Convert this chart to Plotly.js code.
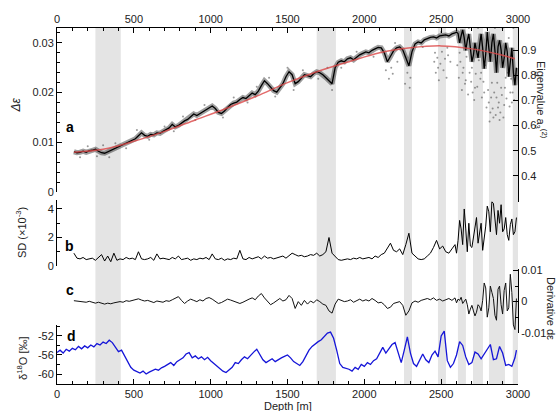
<!DOCTYPE html>
<html><head><meta charset="utf-8">
<script src="https://cdn.plot.ly/plotly-3.0.1.min.js"></script>
<style>html,body{margin:0;padding:0;background:#fff}#chart{width:560px;height:411px}</style>
</head><body><div id="chart"></div>
<script>
// Depth sampling (m) for panels a, b, c
const depth = [110,130,150,170,190,210,230,250,270,290,310,330,350,370,390,410,430,450,470,490,510,530,550,570,590,610,630,650,670,690,710,730,750,770,790,810,830,850,870,890,910,930,950,970,990,1010,1030,1050,1070,1090,1110,1130,1150,1170,1190,1210,1230,1250,1270,1290,1310,1330,1350,1370,1390,1410,1430,1450,1470,1490,1510,1530,1550,1570,1590,1610,1630,1650,1670,1690,1710,1730,1750,1770,1790,1810,1830,1850,1870,1890,1910,1930,1950,1970,1990,2010,2030,2050,2070,2090,2110,2130,2150,2170,2190,2210,2230,2250,2270,2290,2310,2330,2350,2370,2390,2410,2430,2450,2470,2490,2510,2530,2550,2570,2590,2610,2630,2650,2670,2690,2710,2730,2750,2770,2790,2810,2830,2850,2870,2890,2910,2930,2950,2970,2990];
// Extra in-between samples in the noisy deep section
const depthTail = [2600,2620,2640,2660,2680,2700,2720,2740,2760,2780,2800,2820,2840,2860,2880,2900,2920,2940,2960,2980];

// Panel a: delta epsilon
const deltaEps = [
.0081,.0079,.0080,.0082,.0080, .0083,.0084,.0086,.0082,.0079, .0078,.0081,.0084,.0086,.0089,
.0093,.0096,.0098,.0101,.0104, .0107,.0113,.0119,.0114,.0112, .0116,.0115,.0119,.0118,.0122,
.0125,.0129,.0136,.0131,.0134, .0139,.0143,.0146,.0152,.0157, .0154,.0158,.0162,.0166,.0170,
.0173,.0168,.0160,.0158,.0163, .0170,.0176,.0179,.0181,.0186, .0190,.0188,.0194,.0199,.0196,
.0203,.0214,.0224,.0218,.0210, .0204,.0201,.0210,.0218,.0232, .0242,.0236,.0218,.0222,.0230,
.0236,.0234,.0232,.0238,.0242, .0240,.0236,.0230,.0224,.0218, .0250,.0261,.0264,.0262,.0268,
.0270,.0266,.0272,.0276,.0279, .0282,.0280,.0285,.0288,.0291, .0290,.0280,.0262,.0272,.0284,
.0290,.0292,.0286,.0270,.0254, .0282,.0298,.0302,.0300,.0306, .0309,.0311,.0312,.0310,.0314,
.0315,.0316,.0314,.0318,.0320, .0319,.0314,.0310,.0305,.0290, .0276,.0284,.0296,.0290,.0278,
.0290,.0300,.0284,.0292,.0286, .0270,.0282,.0262,.0240,.0250];
const deltaEpsTail = [.0322,.0300,.0326,.0285,.0318,.0262,.0300,.0270,.0318,.0248,.0322,.0262,.0318,.0240,.0305,.0250,.0300,.0232,.0290,.0215];

// Panel a: scattered outlying points
const outDepth = [150,200,260,300,340,380,450,520,600,700,760,820,900,960,1080,1150,1240,1300,1380,1420,1500,1540,1600,1700,1760,1790,1850,1950,2060,2140,2160,2200,2280,2300,2380,2460,2480,2500,2540,2560,2600,2620,2640,2660,2680,2700,2720,2740,2760,2780,2800,2810,2820,2830,2840,2850,2860,2870,2880,2890,2900,2910,2920,2940,2950,2960,2970,
2455,2465,2475,2485,2495,2505,2515,2525,2535,2545,2605,2615,2625,2635,2645,2655,2665,2675,2685,2695,2705,2715,2725,2735,2745,2755,2765,2775,2785,2795,2805,2815,2825,2835,2845,2855,2865,2875,2885,2895,2905,2915,2925,2935,2945,2955,2965,2975,2185,2215,2265,2295,2175];
const outEps = [.0070,.0092,.0072,.0094,.0070,.0098,.0088,.0125,.0105,.0132,.0122,.0152,.0145,.0175,.0150,.0190,.0180,.0212,.0230,.0192,.0250,.0205,.0245,.0228,.0250,.0205,.0250,.0282,.0272,.0245,.0228,.0300,.0240,.0230,.0292,.0280,.0250,.0322,.0290,.0262,.0330,.0280,.0240,.0225,.0330,.0250,.0210,.0330,.0240,.0200,.0330,.0180,.0160,.0220,.0150,.0330,.0190,.0170,.0145,.0210,.0330,.0175,.0230,.0310,.0200,.0180,.0330,
.0262,.0240,.0270,.0225,.0258,.0282,.0245,.0268,.0230,.0275,.0255,.0230,.0262,.0205,.0250,.0218,.0272,.0196,.0240,.0222,.0200,.0185,.0238,.0212,.0265,.0228,.0190,.0222,.0255,.0170,.0205,.0142,.0190,.0168,.0200,.0155,.0220,.0180,.0160,.0195,.0150,.0210,.0188,.0240,.0172,.0228,.0200,.0185,.0238,.0262,.0218,.0210,.0250];

// Panel a: red fit
const fitDepth = [110,300,500,700,900,1100,1300,1500,1700,1900,2100,2300,2500,2700,2900,2980];
const fitEps = [.0080,.0086,.0102,.0122,.0145,.0168,.0193,.0220,.0243,.0262,.0280,.0290,.0294,.0288,.0275,.0268];

// Panel b: SD (x10^-3)
const sd = [
0.9,0.55,0.5,0.6,0.45, 0.5,0.55,0.4,0.6,0.8, 0.35,0.7,0.3,0.9,0.4,
0.5,0.45,0.6,0.5,0.55, 0.45,1.0,0.5,0.45,0.5, 0.6,0.4,0.85,0.5,0.55,
0.5,0.45,0.6,0.5,0.7, 0.45,0.5,0.55,0.4,0.5, 0.45,0.55,0.5,0.6,0.45,
0.85,0.5,0.45,0.55,0.4, 0.5,0.45,0.55,0.5,1.1, 0.5,0.45,0.6,0.5,0.55,
0.65,0.5,0.7,0.55,0.6, 0.5,0.55,0.6,0.7,0.55, 0.75,0.9,0.8,0.7,0.75,
0.65,0.7,0.8,0.75,0.9, 0.7,0.8,1.0,2.0,0.9, 0.7,0.45,0.4,0.45,0.5,
0.45,0.55,0.5,0.6,0.5, 0.55,0.6,0.5,0.7,0.6, 0.8,0.9,1.3,1.6,1.1,
1.0,1.2,0.8,1.5,2.3, 0.9,0.7,0.5,0.45,0.5, 0.7,0.9,1.3,1.8,1.2,
1.4,1.0,0.9,1.2,1.5, 1.8,2.6,4.0,1.0,1.4, 2.0,3.4,2.5,1.1,2.8,
3.8,4.5,3.2,3.9,4.3, 2.6,2.2,2.9,2.2,3.4];
const sdTail = [0.9,3.2,1.5,2.6,3.0,1.3,2.8,1.6,3.0,1.8,4.2,2.4,4.4,2.2,3.0,2.4,3.4,1.8,3.3,2.4];

// Panel c: derivative
const deriv = [
0.0003,0.0002,0.0001,0.0000,-0.0002, 0.0001,-0.0003,-0.0005,-0.0002,-0.0006, -0.0008,-0.0005,-0.0007,-0.0004,-0.0003,
0.0000,-0.0002,0.0003,0.0001,0.0004, 0.0006,0.0009,0.0005,0.0002,0.0004, 0.0001,-0.0003,0.0002,0.0000,-0.0002,
0.0003,0.0001,0.0006,0.0010,0.0016, 0.0004,-0.0006,0.0002,0.0008,0.0004, 0.0000,0.0006,0.0002,0.0010,0.0013,
0.0008,0.0002,-0.0006,-0.0003,0.0004, 0.0008,0.0005,0.0002,-0.0002,-0.0006, -0.0002,0.0004,0.0008,0.0012,0.0006,
0.0018,0.0026,0.0012,0.0000,-0.0010, -0.0004,0.0004,0.0010,0.0002,0.0006, 0.0020,0.0010,-0.0022,0.0000,-0.0012,
0.0004,-0.0008,0.0002,-0.0004,0.0006, 0.0000,-0.0008,-0.0012,-0.0030,-0.0037, -0.0008,0.0008,0.0004,0.0000,0.0002,
0.0006,-0.0002,0.0004,0.0008,0.0002, 0.0006,0.0002,0.0010,0.0004,-0.0004, -0.0002,-0.0010,-0.0022,-0.0018,-0.0006,
-0.0004,0.0000,-0.0012,-0.0044,-0.0030, -0.0004,0.0002,-0.0002,0.0004,0.0006, 0.0010,0.0006,0.0012,0.0004,0.0008,
0.0002,0.0006,0.0010,0.0004,0.0012, 0.0008,0.0014,0.0002,-0.0010,-0.0024, -0.0030,-0.0034,-0.0016,0.0004,0.0044,
-0.0020,0.0030,-0.0044,0.0040,-0.0010, 0.0036,-0.0030,0.0088,-0.0075,0.0010];
const derivTail = [-0.0004,0.0004,-0.0006,0.0008,-0.0040,-0.0012,-0.0046,-0.0010,-0.0030,0.0060,-0.0050,0.0050,0.0010,-0.0060,0.0050,-0.0040,0.0060,-0.0020,0.0030,-0.0090];

// Panel d: delta 18 O
const depthD = [0,20,40,60,80,100,120,140,160,180,200,220,240,260,280,300,320,340,360,380,400,420,440,460,480,500,520,540,560,580,600,620,640,660,680,700,720,740,760,780,800,820,840,860,880,900,920,940,960,980,1000,1020,1040,1060,1080,1100,1120,1140,1160,1180,1200,1220,1240,1260,1280,1300,1320,1340,1360,1380,1400,1420,1440,1460,1480,1500,1520,1540,1560,1580,1600,1620,1640,1660,1680,1700,1720,1740,1760,1780,1800,1820,1840,1860,1880,1900,1920,1940,1960,1980,2000,2020,2040,2060,2080,2100,2120,2140,2160,2180,2200,2220,2240,2260,2280,2300,2320,2340,2360,2380,2400,2420,2440,2460,2480,2500,2520,2540,2560,2580,2600,2620,2640,2660,2680,2700,2720,2740,2760,2780,2800,2820,2840,2860,2880,2900,2920,2940,2960,2980,2990];
const d18O = [
-55.5,-55.0,-55.6,-54.8,-55.2, -54.6,-54.9,-54.2,-54.7,-54.1, -54.5,-53.9,-54.3,-53.6,-53.9,
-53.3,-53.6,-52.9,-53.4,-54.5, -55.3,-55.0,-56.2,-57.6,-58.6, -59.2,-59.5,-59.8,-59.4,-60.0,
-59.6,-59.3,-59.0,-59.2,-58.7, -58.4,-58.0,-57.6,-58.2,-57.4, -57.0,-56.6,-55.8,-55.5,-56.6,
-56.2,-56.8,-56.4,-57.0,-56.5, -57.2,-57.8,-58.4,-59.0,-59.4, -59.7,-59.2,-58.6,-57.6,-57.8,
-57.0,-56.4,-56.8,-56.0,-55.4, -54.8,-55.8,-57.0,-57.6,-57.2, -56.8,-57.4,-56.9,-56.6,-56.3,
-56.0,-56.6,-57.4,-57.8,-58.2, -57.4,-56.2,-55.0,-54.2,-53.6, -53.2,-52.8,-52.2,-51.4,-51.2,
-52.5,-55.0,-57.8,-58.6,-58.8, -59.0,-59.4,-58.6,-59.0,-58.0, -58.4,-57.6,-58.0,-57.2,-56.8,
-55.6,-54.4,-55.6,-54.6,-53.8, -53.4,-55.8,-57.6,-55.0,-52.2, -55.6,-57.8,-58.4,-57.0,-55.8,
-57.0,-57.6,-56.0,-55.2,-56.4, -52.0,-51.0,-57.2,-58.6,-57.8, -56.0,-53.2,-54.0,-56.4,-58.0,
-57.6,-55.4,-55.8,-56.8,-55.8, -54.6,-53.8,-57.0,-56.8,-54.2, -55.6,-58.2,-58.0,-58.4,-56.6, -55.0];

// Grey shaded depth intervals
const bandStart = [250,1690,2258,2479,2609,2707,2811,2966];
const bandEnd   = [415,1815,2310,2531,2661,2772,2915,3000];

// merge main samples with the extra deep samples (sorted by depth)
function merge(d1, v1, d2, v2) {
  const p = d1.map((d,i)=>[d,v1[i]]).concat(d2.map((d,i)=>[d,v2[i]])).sort((a,b)=>a[0]-b[0]);
  return {x:p.map(q=>q[0]), y:p.map(q=>q[1])};
}
const A = merge(depth, deltaEps, depthTail, deltaEpsTail);
const B = merge(depth, sd, depthTail, sdTail);
const C = merge(depth, deriv, depthTail, derivTail);

const F = 'Liberation Sans, Arial, sans-serif';
const tf = {family:F, size:11, color:'#222'};
const traces = [
  {x:outDepth, y:outEps, xaxis:'x', yaxis:'y', mode:'markers', marker:{color:'rgba(70,70,70,0.55)', size:2}},
  {x:A.x, y:A.y, xaxis:'x', yaxis:'y', mode:'lines', line:{color:'rgba(0,0,0,0.38)', width:5}},
  {x:A.x, y:A.y, xaxis:'x', yaxis:'y', mode:'lines', line:{color:'#000', width:1.3}},
  {x:fitDepth, y:fitEps, xaxis:'x', yaxis:'y', mode:'lines', line:{color:'rgba(220,70,70,0.8)', width:1.5, shape:'spline'}},
  {x:[0,3000], y:[null,null], xaxis:'x', yaxis:'y2', mode:'lines'},
  {x:B.x, y:B.y, xaxis:'x', yaxis:'y3', mode:'lines', line:{color:'#000', width:1}},
  {x:C.x, y:C.y, xaxis:'x', yaxis:'y4', mode:'lines', line:{color:'#111', width:1}},
  {x:depthD, y:d18O, xaxis:'x', yaxis:'y5', mode:'lines', line:{color:'#1515d8', width:1.3}},
  {x:[0,3000], y:[null,null], xaxis:'x2', yaxis:'y', mode:'lines'}
];

const shapes = bandStart.map((s,i)=>({type:'rect', xref:'x', yref:'paper', x0:s, x1:bandEnd[i], y0:0, y1:1, fillcolor:'#e4e4e4', line:{width:0}, layer:'below'}));

const ax = {showgrid:false, zeroline:false, showline:true, linecolor:'#000', linewidth:1, ticks:'inside', ticklen:5, tickcolor:'#000', tickfont:tf};
const mn = (d)=>({dtick:d, ticklen:3, ticks:'inside', tickcolor:'#000'});
const xt = [0,500,1000,1500,2000,2500,3000];
function ann(x, y, text, size, angle, bold) {
  return {xref:'paper', yref:'paper', x:x, y:y, xanchor:'center', yanchor:'middle', text:text, textangle:angle||0, showarrow:false,
          font:{family:F, size:size, color: bold ? '#000' : '#222'}};
}
const layout = {
  width:560, height:411, margin:{l:57, r:42, t:27, b:27},
  paper_bgcolor:'#fff', plot_bgcolor:'rgba(0,0,0,0)', showlegend:false,
  font:{family:F, size:11, color:'#222'},
  xaxis: Object.assign({}, ax, {domain:[0,1], range:[0,3000], anchor:'y5', tickvals:xt, ticktext:xt.map(String), minor:mn(100)}),
  xaxis2: Object.assign({}, ax, {overlaying:'x', side:'top', anchor:'free', position:1, range:[0,3000], tickvals:xt, ticktext:xt.map(String), minor:mn(100)}),
  yaxis: Object.assign({}, ax, {domain:[0.5378,1], range:[0,0.0332], tickvals:[0,0.01,0.02,0.03], ticktext:['0','0.01','0.02','0.03'], minor:mn(0.002)}),
  yaxis2: Object.assign({}, ax, {domain:[0.5098,1], range:[0.296,0.992], side:'right', anchor:'x', tickvals:[0.4,0.5,0.6,0.7,0.8,0.9,1.0], ticktext:['0.4','0.5','0.6','0.7','0.8','0.9','1.0']}),
  yaxis3: Object.assign({}, ax, {domain:[0.3305,0.5154], range:[0,4.63], anchor:'x', tickvals:[0,2,4], ticktext:['0','2','4'], minor:mn(1)}),
  yaxis4: Object.assign({}, ax, {domain:[0.1429,0.3221], range:[-0.0101,0.0105], side:'right', anchor:'x', tickvals:[-0.01,0,0.01], ticktext:['-0.01','0','0.01'], minor:mn(0.005)}),
  yaxis5: Object.assign({}, ax, {domain:[0,0.1653], range:[-62.1,-49.7], anchor:'x', tickvals:[-60,-56,-52], ticktext:['-60','-56','-52'], minor:mn(2)}),
  shapes: shapes,
  annotations: [
    ann(0.028, 0.72, '<b>a</b>', 14, 0, true),
    ann(0.028, 0.3866, '<b>b</b>', 14, 0, true),
    ann(0.028, 0.263, '<b>c</b>', 14, 0, true),
    ann(0.0325, 0.1345, '<b>d</b>', 14, 0, true),
    ann(-0.091, 0.78, '<i>Δε</i>', 12, -90),
    ann(-0.078, 0.423, 'SD (×10<sup>-3</sup>)', 11, -90),
    ann(-0.076, 0.073, 'δ<sup>18</sup>O [‰]', 11, -90),
    ann(1.05, 0.7955, 'Eigenvalue a<sub>3</sub><sup>(2)</sup>', 11, 90),
    ann(1.0716, 0.213, 'Derivative dε', 11, 90),
    ann(0.502, -0.0616, 'Depth [m]', 11, 0)
  ]
};
Plotly.newPlot('chart', traces, layout, {staticPlot:true});
</script></body></html>
